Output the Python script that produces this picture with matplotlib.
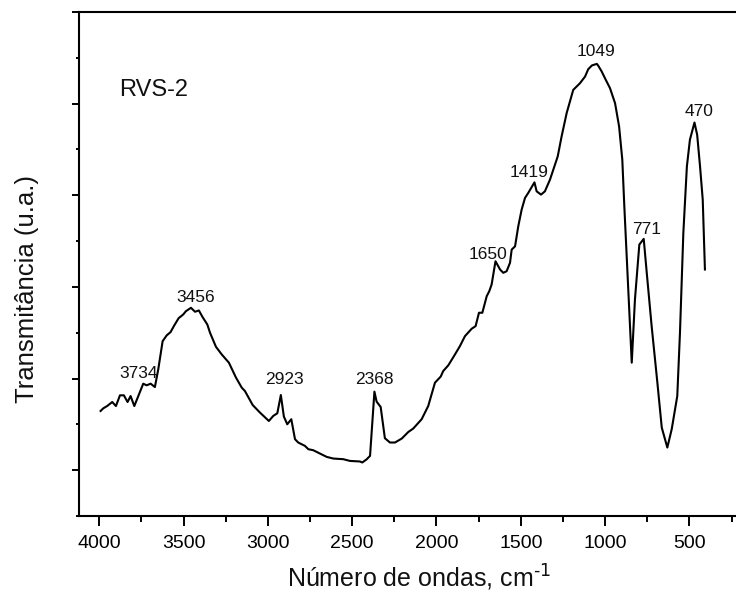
import matplotlib
matplotlib.use("Agg")
import matplotlib.pyplot as plt
from matplotlib.ticker import MultipleLocator, NullFormatter
import numpy as np

plt.rcParams['font.family'] = ['Liberation Sans', 'DejaVu Sans']
plt.rcParams['mathtext.default'] = 'regular'

# Wavenumber (cm-1) and transmittance (arbitrary units)
wavenumber = [3992, 3976, 3953, 3923, 3901, 3877, 3854, 3832, 3814, 3792,
              3739, 3719, 3695, 3670, 3650, 3624, 3600, 3577, 3555, 3529,
              3502, 3486, 3456, 3432, 3409, 3387, 3359, 3343, 3308, 3274,
              3231, 3189, 3155, 3136, 3090, 3047, 2994, 2968, 2944, 2923,
              2905, 2885, 2861, 2839, 2820, 2780, 2760, 2731, 2691, 2651,
              2612, 2553, 2513, 2454, 2440, 2415, 2394, 2368, 2355, 2331,
              2306, 2276, 2246, 2206, 2167, 2138, 2088, 2049, 2009, 1975,
              1960, 1930, 1890, 1861, 1831, 1791, 1768, 1748, 1728, 1702,
              1687, 1673, 1650, 1623, 1604, 1584, 1564, 1554, 1534, 1515,
              1495, 1475, 1456, 1419, 1406, 1380, 1357, 1327, 1307, 1281,
              1258, 1228, 1189, 1149, 1119, 1100, 1078, 1049, 1040, 1020,
              1001, 971, 941, 917, 898, 886, 862, 842, 823, 797,
              771, 753, 724, 690, 664, 631, 605, 572, 556, 536,
              515, 497, 470, 454, 437, 421, 408]
transmittance = [0.646, 0.675, 0.700, 0.744, 0.700, 0.817, 0.817, 0.744, 0.809, 0.700,
                 0.944, 0.926, 0.944, 0.907, 1.100, 1.408, 1.471, 1.507, 1.580, 1.659,
                 1.699, 1.735, 1.772, 1.729, 1.743, 1.670, 1.590, 1.500, 1.347, 1.264,
                 1.173, 1.010, 0.901, 0.864, 0.711, 0.629, 0.537, 0.592, 0.621, 0.820,
                 0.585, 0.501, 0.556, 0.338, 0.302, 0.265, 0.229, 0.218, 0.182, 0.145,
                 0.127, 0.120, 0.101, 0.095, 0.084, 0.117, 0.156, 0.857, 0.748, 0.690,
                 0.349, 0.302, 0.302, 0.345, 0.417, 0.454, 0.556, 0.700, 0.955, 1.021,
                 1.082, 1.144, 1.264, 1.354, 1.463, 1.544, 1.572, 1.718, 1.718, 1.899,
                 1.953, 2.026, 2.280, 2.190, 2.154, 2.171, 2.263, 2.407, 2.443, 2.661,
                 2.843, 2.971, 3.025, 3.141, 3.043, 3.007, 3.043, 3.170, 3.279, 3.424,
                 3.642, 3.897, 4.150, 4.223, 4.295, 4.376, 4.417, 4.434, 4.412, 4.350,
                 4.278, 4.169, 4.005, 3.751, 3.388, 2.879, 1.936, 1.173, 1.863, 2.462,
                 2.524, 2.154, 1.572, 0.955, 0.465, 0.247, 0.447, 0.809, 1.500, 2.589,
                 3.315, 3.606, 3.794, 3.660, 3.315, 2.952, 2.190]

peaks = [3734, 3456, 2923, 2368, 1650, 1419, 1049, 771, 470]
peak_curve_x = [3739, 3456, 2923, 2368, 1650, 1419, 1049, 771, 470]
# label centre offsets from the peak, in points
label_offsets = [(-3.6, 7.2), (3.1, 7.2), (2.7, 11.3), (0.0, 8.9), (-5.2, 4.8),
                 (-4.2, 7.0), (-0.7, 8.9), (1.8, 6.7), (3.4, 7.9)]

sample_name = "RVS-2"

fig = plt.figure(figsize=(7.36, 6.0), dpi=100)
ax = fig.add_axes([79/736, 84/600, 661/736, 504/600])

ax.plot(wavenumber, transmittance, color='black', lw=1.5)

wn = np.array(wavenumber)
tr = np.array(transmittance)
for p, px, off in zip(peaks, peak_curve_x, label_offsets):
    yv = tr[np.argmin(np.abs(wn - px))]
    ax.annotate(str(p), xy=(px, yv), xytext=off, textcoords='offset points',
                ha='center', va='center', fontsize=12.5, color='#111111')

ax.text(3680, 4.15, sample_name, ha='center', va='center', fontsize=17, color='#111111')

ax.set_xlim(4120, 200)
ax.set_ylim(-0.5, 5.0)

ax.xaxis.set_major_locator(MultipleLocator(500))
ax.xaxis.set_minor_locator(MultipleLocator(250))
ax.yaxis.set_major_locator(MultipleLocator(1))
ax.yaxis.set_minor_locator(MultipleLocator(0.5))
ax.yaxis.set_major_formatter(NullFormatter())

ax.tick_params(axis='x', which='major', direction='out', length=7.5, width=1.4,
               labelsize=14, pad=6, top=False)
ax.tick_params(axis='x', which='minor', direction='out', length=4.5, width=1.4, top=False)
ax.tick_params(axis='y', which='major', direction='out', length=5, width=1.4, right=False)
ax.tick_params(axis='y', which='minor', direction='out', length=2.5, width=1.4, right=False)

for s in ['left', 'bottom', 'top']:
    ax.spines[s].set_linewidth(1.5)
ax.spines['right'].set_visible(False)

fig.text(419/736, 1 - 578/600, r"Número de ondas, cm$^{\text{-1}}$", ha='center', va='center',
         fontsize=18, color='#111111')
fig.text(27/736, 1 - 289/600, "Transmitância (u.a.)", ha='center', va='center',
         rotation=90, fontsize=18.5, color='#111111')

fig.savefig("out.png", dpi=100)
